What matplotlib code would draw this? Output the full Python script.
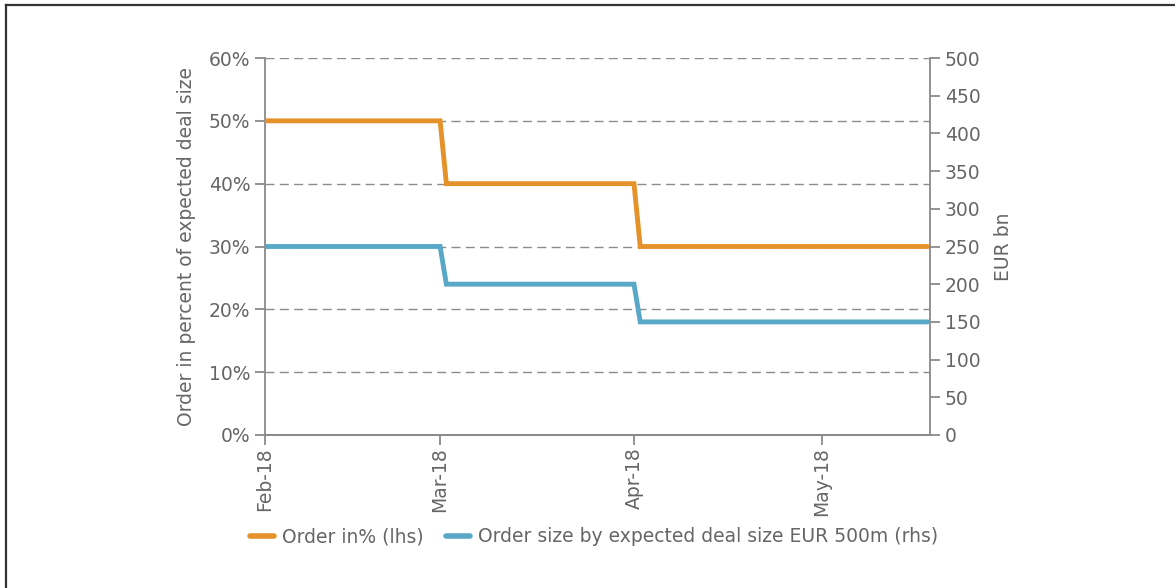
import matplotlib
matplotlib.use('Agg')
import matplotlib.pyplot as plt
import matplotlib.dates as mdates
import matplotlib.ticker as mticker
from matplotlib.lines import Line2D
import pandas as pd

# Step points of the order book (daily dates)
dates = pd.to_datetime(["2018-02-01", "2018-03-01", "2018-03-02",
                        "2018-04-01", "2018-04-02", "2018-05-18"])
order_pct = [50, 50, 40, 40, 30, 30]          # lhs, %
order_size = [250, 250, 200, 200, 150, 150]   # rhs, EUR bn

tick_dates = pd.to_datetime(["2018-02-01", "2018-03-01", "2018-04-01", "2018-05-01"])
x_end = pd.Timestamp("2018-05-18 08:00")
label_pct = "Order in% (lhs)"
label_size = "Order size by expected deal size EUR 500m (rhs)"

ORANGE = "#E5922A"
BLUE = "#5AA8C7"
TEXT = "#666666"
AXIS = "#8a8a8a"
FS = 13.5

plt.rcParams['font.family'] = ['DejaVu Sans']
plt.rcParams['font.size'] = FS

fig = plt.figure(figsize=(11.75, 5.88), dpi=100)
ax = fig.add_axes([265 / 1175, 1 - 435 / 588, (930 - 265) / 1175, (435 - 58) / 588])
ax2 = ax.twinx()

ax.plot(dates, order_pct, color=ORANGE, lw=3.5, solid_capstyle='round',
        solid_joinstyle='miter', zorder=3)
ax2.plot(dates, order_size, color=BLUE, lw=3.5, solid_capstyle='round',
         solid_joinstyle='miter', zorder=3)

ax.set_xlim(dates[0], x_end)
ax.set_ylim(0, 60)
ax2.set_ylim(0, 500)

ax.yaxis.set_major_locator(mticker.MultipleLocator(10))
ax.yaxis.set_major_formatter(mticker.FuncFormatter(lambda v, _: f"{v:.0f}%"))
ax2.yaxis.set_major_locator(mticker.MultipleLocator(50))

ax.set_xticks(tick_dates)
ax.xaxis.set_major_formatter(mdates.DateFormatter("%b-%y"))
for lbl in ax.get_xticklabels():
    lbl.set_rotation(90)

ax.grid(axis='y', color='#8c8c8c', ls=(0, (6.5, 3.8)), lw=1.0)
ax.set_axisbelow(True)

for a in (ax, ax2):
    for side, sp in a.spines.items():
        sp.set_color(AXIS)
        sp.set_linewidth(1.3)
    a.spines['top'].set_visible(False)
    a.tick_params(colors=AXIS, labelcolor=TEXT, length=7, width=1.3, labelsize=FS)
ax.tick_params(axis='x', pad=2)
ax.spines['right'].set_visible(False)
ax2.spines['left'].set_visible(False)

ax.set_ylabel("Order in percent of expected deal size", color=TEXT, fontsize=FS, labelpad=9)
ax2.set_ylabel("EUR bn", color=TEXT, fontsize=FS, labelpad=10)

handles = [Line2D([0], [0], color=ORANGE, lw=4, solid_capstyle='round'),
           Line2D([0], [0], color=BLUE, lw=4, solid_capstyle='round')]
leg = fig.legend(handles, [label_pct, label_size], loc='center',
                 bbox_to_anchor=(594 / 1175, 1 - 537 / 588), ncol=2, frameon=False,
                 handlelength=1.3, handletextpad=0.4, columnspacing=1.2, fontsize=FS)
for t in leg.get_texts():
    t.set_color(TEXT)

# frame edges along the top and left of the figure
fig.add_artist(Line2D([6 / 1175, 1], [1 - 5 / 588, 1 - 5 / 588], color='#333333', lw=1.6))
fig.add_artist(Line2D([6 / 1175, 6 / 1175], [0, 1 - 5 / 588], color='#333333', lw=1.6))

fig.savefig("out.png", dpi=100)
